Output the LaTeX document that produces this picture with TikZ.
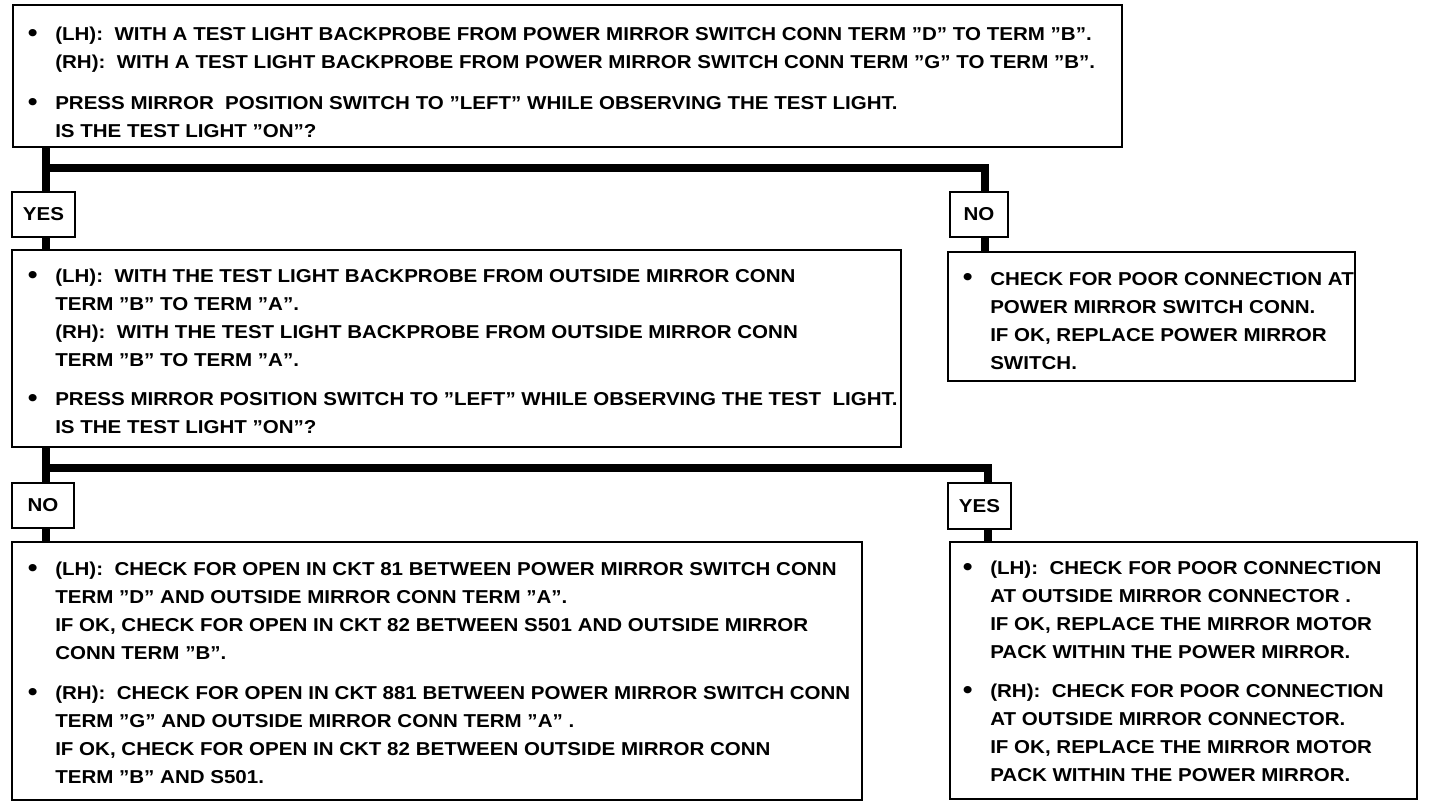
\documentclass[tikz,border=0pt]{standalone}
\usepackage{fontspec}
\setmainfont{Liberation Sans}[FakeStretch=1.1]
\usetikzlibrary{fit}
\newcommand\bul{\makebox[21pt][l]{\hspace*{0.5pt}\raisebox{-0.5pt}{\fontsize{19pt}{19pt}\selectfont\textbullet}}}
\newcommand\ind{\hspace*{21pt}}
\begin{document}
\begin{tikzpicture}[x=0.75pt,y=-0.75pt,
  box/.style={draw, line width=1.5pt, inner sep=0pt},
  conn/.style={line width=5.5pt},
  txt/.style={anchor=north west, inner sep=0pt, align=left,
    font=\bfseries\fontsize{14pt}{21pt}\selectfont},
  lab/.style={font=\bfseries\fontsize{14pt}{15pt}\selectfont, inner sep=0pt}]
\useasboundingbox (0,0) rectangle (1440,808);
% boxes
\node[box, fit={(13,5) (1122,147)}] (b1) {};
\node[box, fit={(12,192) (75,237)}] (yes1) {};
\node[box, fit={(950,192) (1008,237)}] (no1) {};
\node[box, fit={(12,250) (901,447)}] (b2) {};
\node[box, fit={(948,252) (1355,381)}] (b2r) {};
\node[box, fit={(12,483) (74,528)}] (no2) {};
\node[box, fit={(948,483) (1011,529)}] (yes2) {};
\node[box, fit={(12,542) (862,800)}] (b3) {};
\node[box, fit={(950,542) (1417,799)}] (b4) {};
% labels
\node[lab] (yes1t) at (yes1.center) {YES};
\node[lab] (no1t) at (no1.center) {NO};
\node[lab] (no2t) at (no2.center) {NO};
\node[lab] (yes2t) at (yes2.center) {YES};
% junction coordinates
\coordinate (j1) at (46,168);
\coordinate (j2) at (46,468);
% connectors
\draw[conn] (b1.south -| 46,0) -- (yes1.north -| 46,0);
\draw[conn] (j1) -| (no1.north -| 985,0);
\draw[conn] (yes1.south -| 46,0) -- (b2.north -| 46,0);
\draw[conn] (no1.south -| 985,0) -- (b2r.north -| 985,0);
\draw[conn] (b2.south -| 46,0) -- (no2.north -| 46,0);
\draw[conn] (j2) -| (yes2.north -| 988,0);
\draw[conn] (no2.south -| 46,0) -- (b3.north -| 46,0);
\draw[conn] (yes2.south -| 988,0) -- (b4.north -| 988,0);
% texts
\node[txt] (t1) at (27,27) {\bul(LH):\ \ WITH A TEST LIGHT BACKPROBE FROM POWER MIRROR SWITCH CONN TERM ”D” TO TERM ”B”.\\
\ind(RH):\ \ WITH A TEST LIGHT BACKPROBE FROM POWER MIRROR SWITCH CONN TERM ”G” TO TERM ”B”.\\[9.5pt]
\bul PRESS MIRROR\ \ POSITION SWITCH TO ”LEFT” WHILE OBSERVING THE TEST LIGHT.\\
\ind IS THE TEST LIGHT ”ON”?};
\node[txt] (t2) at (27,269) {\bul(LH):\ \ WITH THE TEST LIGHT BACKPROBE FROM OUTSIDE MIRROR CONN\\
\ind TERM ”B” TO TERM ”A”.\\
\ind(RH):\ \ WITH THE TEST LIGHT BACKPROBE FROM OUTSIDE MIRROR CONN\\
\ind TERM ”B” TO TERM ”A”.\\[8pt]
\bul PRESS MIRROR POSITION SWITCH TO ”LEFT” WHILE OBSERVING THE TEST\ \ LIGHT.\\
\ind IS THE TEST LIGHT ”ON”?};
\node[txt] (t2r) at (962,272) {\bul CHECK FOR POOR CONNECTION AT\\
\ind POWER MIRROR SWITCH CONN.\\
\ind IF OK, REPLACE POWER MIRROR\\
\ind SWITCH.};
\node[txt] (t3) at (27,562) {\bul(LH):\ \ CHECK FOR OPEN IN CKT 81 BETWEEN POWER MIRROR SWITCH CONN\\
\ind TERM ”D” AND OUTSIDE MIRROR CONN TERM ”A”.\\
\ind IF OK, CHECK FOR OPEN IN CKT 82 BETWEEN S501 AND OUTSIDE MIRROR\\
\ind CONN TERM ”B”.\\[9pt]
\bul(RH):\ \ CHECK FOR OPEN IN CKT 881 BETWEEN POWER MIRROR SWITCH CONN\\
\ind TERM ”G” AND OUTSIDE MIRROR CONN TERM ”A” .\\
\ind IF OK, CHECK FOR OPEN IN CKT 82 BETWEEN OUTSIDE MIRROR CONN\\
\ind TERM ”B” AND S501.};
\node[txt] (t4) at (962,561) {\bul(LH):\ \ CHECK FOR POOR CONNECTION\\
\ind AT OUTSIDE MIRROR CONNECTOR .\\
\ind IF OK, REPLACE THE MIRROR MOTOR\\
\ind PACK WITHIN THE POWER MIRROR.\\[8pt]
\bul(RH):\ \ CHECK FOR POOR CONNECTION\\
\ind AT OUTSIDE MIRROR CONNECTOR.\\
\ind IF OK, REPLACE THE MIRROR MOTOR\\
\ind PACK WITHIN THE POWER MIRROR.};
\end{tikzpicture}
\end{document}
